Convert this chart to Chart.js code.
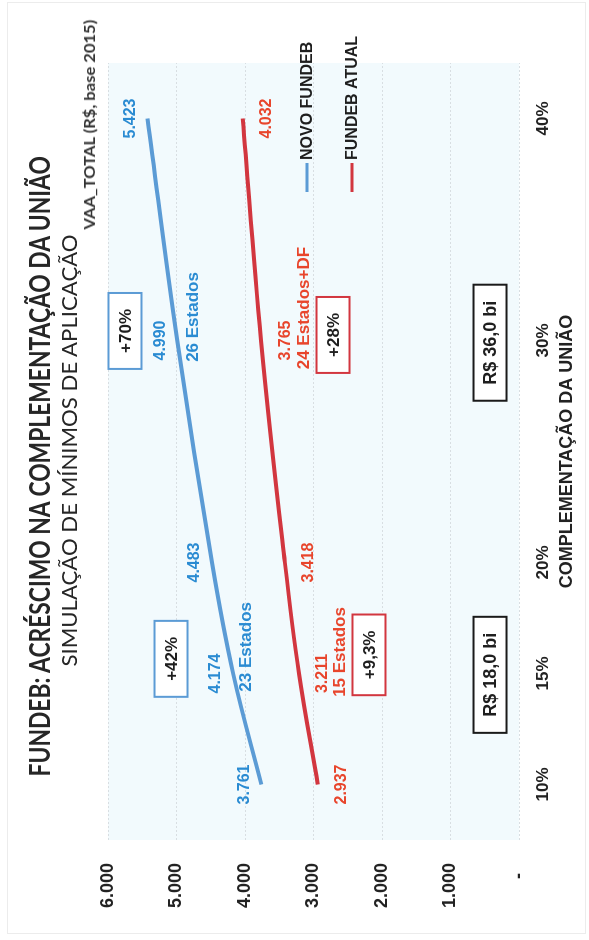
<!DOCTYPE html>
<html lang="pt-BR">
<head>
<meta charset="utf-8">
<title>FUNDEB: acréscimo na complementação da União</title>
<script src="https://cdn.jsdelivr.net/npm/chart.js@4.4.1/dist/chart.umd.min.js"></script>
<style>
  html, body { margin: 0; padding: 0; background: #fff; }
  body { width: 589px; height: 940px; position: relative; overflow: hidden; }
  .moldura { position: absolute; left: 7px; top: 2px; width: 579px; height: 932px; border: 1px solid #ececec; box-sizing: border-box; }
  .girado { position: absolute; left: 0; top: 940px; width: 940px; height: 589px; transform-origin: 0 0; transform: rotate(-90deg); }
  .girado canvas { position: absolute; left: 0; top: 0; }
  .txt { position: absolute; white-space: nowrap; transform-origin: 50% 50%; color: #262626; }
  #titulo { font: 700 28px/28px Lato, sans-serif; }
  #subtitulo { font: 400 22px/22px Lato, sans-serif; }
  #unidade { font: 700 16px/16px Lato, sans-serif; color: #333; }
</style>
</head>
<body>
<div class="moldura"></div>
<div class="girado">
  <canvas id="grafico" width="940" height="589"></canvas>
  <div class="txt" id="titulo">FUNDEB: ACRÉSCIMO NA COMPLEMENTAÇÃO DA UNIÃO</div>
  <div class="txt" id="subtitulo">SIMULAÇÃO DE MÍNIMOS DE APLICAÇÃO</div>
  <div class="txt" id="unidade">VAA_TOTAL (R$, base 2015)</div>
</div>
<script>
// dados
const complementacao = [10, 15, 20, 30, 40];
const novoFundeb = [3761, 4174, 4483, 4990, 5423];
const fundebAtual = [2937, 3211, 3418, 3765, 4032];
const ticksY = [0, 1000, 2000, 3000, 4000, 5000, 6000];

const AZUL = '#5b9bd5';
const AZUL_TXT = '#2a8bd2';
const VERMELHO = '#d2363f';
const VERMELHO_TXT = '#e8452c';
const FONTE = '"Liberation Sans", Arial, sans-serif';

// anotações (posição em unidades do gráfico)
const notas = [
    { texto: '23 Estados', x: 16.2, y: 3985, cor: AZUL_TXT },
    { texto: '26 Estados', x: 31.06, y: 4759, cor: AZUL_TXT },
    { texto: '15 Estados', x: 15.97, y: 2613, cor: VERMELHO_TXT },
    { texto: '24 Estados+DF', x: 31.46, y: 3139, cor: VERMELHO_TXT }
];
const caixas = [
    { texto: '+42%', x: 15.66, y: 5080, borda: AZUL, tam: 17 },
    { texto: '+70%', x: 30.43, y: 5752, borda: AZUL, tam: 17 },
    { texto: '+9,3%', x: 15.84, y: 2190, borda: VERMELHO, tam: 17 },
    { texto: '+28%', x: 30.25, y: 2715, borda: VERMELHO, tam: 17 },
    { texto: 'R$ 18,0 bi', x: 14.94, y: 423, borda: '#1a1a1a', tam: 18 },
    { texto: 'R$ 36,0 bi', x: 29.9, y: 423, borda: '#1a1a1a', tam: 18 }
];

const milhar = (v) => String(v).replace(/\B(?=(\d{3})+(?!\d))/g, '.');

function encaixar(id, centroU, centroV, largura) {
    const el = document.getElementById(id);
    const w = el.offsetWidth, h = el.offsetHeight;
    el.style.left = (centroU - w / 2) + 'px';
    el.style.top = (centroV - h / 2) + 'px';
    el.style.transform = `scaleX(${largura / w})`;
}
function posicionarTextos() {
    encaixar('titulo', 473, 39, 620);
    encaixar('subtitulo', 489, 69, 432);
    encaixar('unidade', 815, 89, 210);
}
posicionarTextos();
if (document.fonts) document.fonts.ready.then(posicionarTextos);

const fundoPlot = {
    id: 'fundoPlot',
    beforeDraw(chart) {
        const { ctx, chartArea: a } = chart;
        ctx.save();
        ctx.fillStyle = '#f2fafd';
        ctx.fillRect(a.left, a.top, a.right - a.left, a.bottom - a.top);
        ctx.restore();
    }
};

const rotulos = {
    id: 'rotulos',
    afterDatasetsDraw(chart) {
        const { ctx, scales: { x, y } } = chart;
        ctx.save();
        ctx.textAlign = 'center';
        ctx.textBaseline = 'middle';

        // valores nos pontos
        ctx.font = `bold 16px ${FONTE}`;
        const desloc = [-17, 24];
        chart.data.datasets.forEach((ds, i) => {
            chart.getDatasetMeta(i).data.forEach((pt, j) => {
                ctx.fillStyle = i === 0 ? AZUL_TXT : VERMELHO_TXT;
                ctx.fillText(milhar(ds.data[j].y), pt.x, pt.y + desloc[i]);
            });
        });

        // número de estados
        ctx.font = `bold 17px ${FONTE}`;
        notas.forEach((n) => {
            ctx.fillStyle = n.cor;
            ctx.fillText(n.texto, x.getPixelForValue(n.x), y.getPixelForValue(n.y));
        });

        // caixas
        caixas.forEach((c) => {
            ctx.font = `bold ${c.tam}px ${FONTE}`;
            const px = x.getPixelForValue(c.x), py = y.getPixelForValue(c.y);
            const w = ctx.measureText(c.texto).width + 32, h = 33;
            ctx.fillStyle = '#fff';
            ctx.fillRect(px - w / 2, py - h / 2, w, h);
            ctx.strokeStyle = c.borda;
            ctx.lineWidth = 2;
            ctx.strokeRect(px - w / 2, py - h / 2, w, h);
            ctx.fillStyle = '#1e1e1e';
            ctx.fillText(c.texto, px, py + 1);
        });

        // legenda
        const a = chart.chartArea;
        ctx.font = `bold 16px ${FONTE}`;
        ctx.textAlign = 'left';
        chart.data.datasets.forEach((ds, i) => {
            const ly = a.top + 199 + i * 45;
            ctx.strokeStyle = ds.borderColor;
            ctx.lineWidth = 3;
            ctx.beginPath();
            ctx.moveTo(a.right - 129, ly);
            ctx.lineTo(a.right - 100, ly);
            ctx.stroke();
            ctx.fillStyle = '#1e1e1e';
            ctx.fillText(ds.label, a.right - 97, ly + 1);
        });
        ctx.restore();
    }
};

new Chart(document.getElementById('grafico').getContext('2d'), {
    type: 'line',
    data: {
        datasets: [
            { label: 'NOVO FUNDEB', data: complementacao.map((c, i) => ({ x: c, y: novoFundeb[i] })), borderColor: AZUL, borderWidth: 4, pointRadius: 0, tension: 0.4 },
            { label: 'FUNDEB ATUAL', data: complementacao.map((c, i) => ({ x: c, y: fundebAtual[i] })), borderColor: VERMELHO, borderWidth: 4, pointRadius: 0, tension: 0.4 }
        ]
    },
    options: {
        responsive: false,
        animation: false,
        devicePixelRatio: 1,
        layout: { padding: { left: 0, right: 63, top: 108, bottom: 0 } },
        plugins: { legend: { display: false }, tooltip: { enabled: false } },
        scales: {
            x: {
                type: 'linear', min: 7.5, max: 42.5,
                afterBuildTicks: (s) => { s.ticks = complementacao.map((v) => ({ value: v })); },
                afterFit: (s) => { s.height = 70; },
                grid: { display: false },
                border: { display: false },
                ticks: { padding: 6, color: '#222', font: { family: FONTE, weight: 'bold', size: 17 }, callback: (v) => v + '%' },
                title: { display: true, text: 'COMPLEMENTAÇÃO DA UNIÃO', color: '#222', font: { family: FONTE, weight: 'bold', size: 18 }, padding: { top: 0, bottom: 11 } }
            },
            y: {
                min: 0, max: 6000,
                afterBuildTicks: (s) => { s.ticks = ticksY.map((v) => ({ value: v })); },
                afterFit: (s) => { s.width = 100; },
                grid: { color: '#d8dee2', lineWidth: 1, drawTicks: false },
                border: { display: false, dash: [2, 2] },
                ticks: { padding: 23, color: '#222', font: { family: FONTE, weight: 'bold', size: 18 }, callback: (v) => (v === 0 ? '-  ' : milhar(v)) }
            }
        }
    },
    plugins: [fundoPlot, rotulos]
});
</script>
</body>
</html>
